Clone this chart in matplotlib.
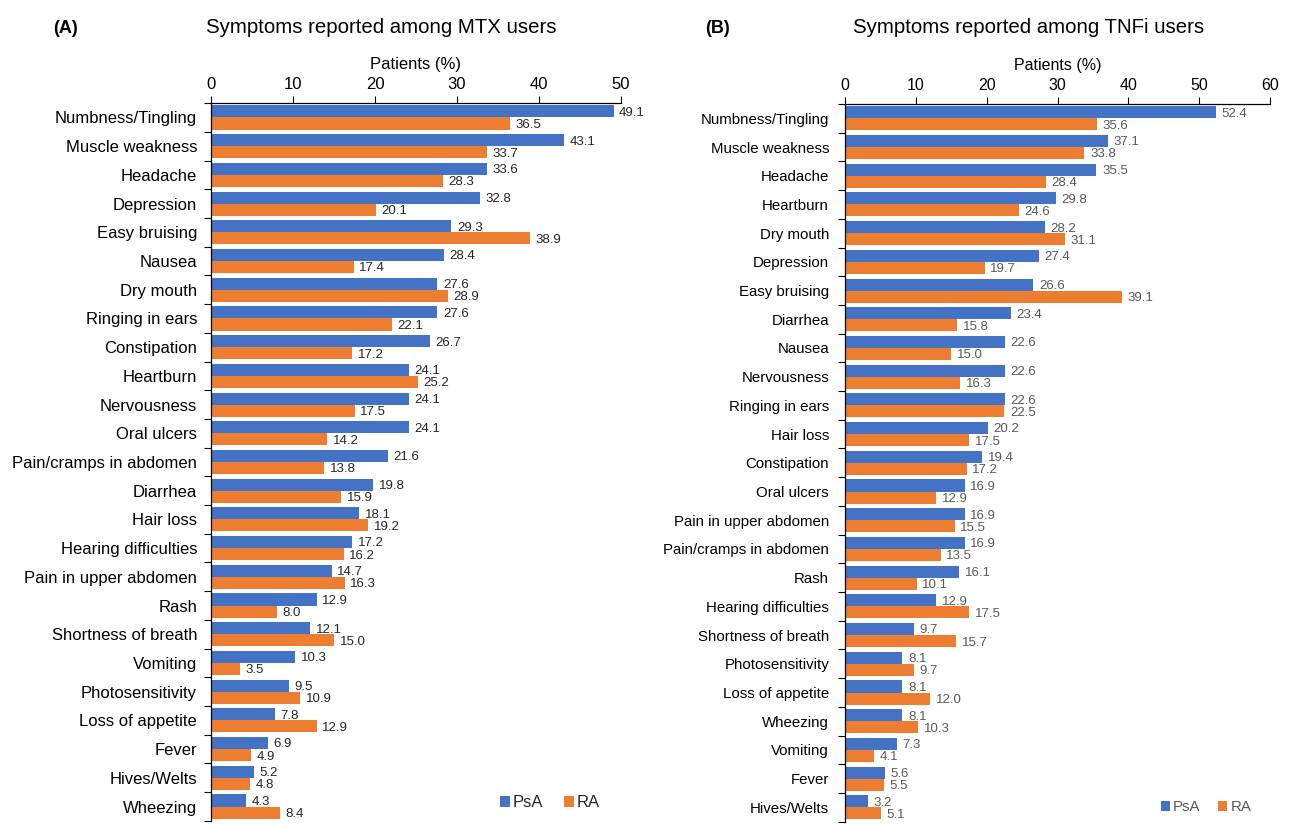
import matplotlib.pyplot as plt
import numpy as np

plt.rcParams['font.family'] = ['Liberation Sans', 'DejaVu Sans']

# ---- MTX users ----
mtx_symptoms = ["Numbness/Tingling", "Muscle weakness", "Headache", "Depression",
                "Easy bruising", "Nausea", "Dry mouth", "Ringing in ears",
                "Constipation", "Heartburn", "Nervousness", "Oral ulcers",
                "Pain/cramps in abdomen", "Diarrhea", "Hair loss",
                "Hearing difficulties", "Pain in upper abdomen", "Rash",
                "Shortness of breath", "Vomiting", "Photosensitivity",
                "Loss of appetite", "Fever", "Hives/Welts", "Wheezing"]
mtx_psa = [49.1, 43.1, 33.6, 32.8, 29.3, 28.4, 27.6, 27.6, 26.7, 24.1, 24.1, 24.1,
           21.6, 19.8, 18.1, 17.2, 14.7, 12.9, 12.1, 10.3, 9.5, 7.8, 6.9, 5.2, 4.3]
mtx_ra = [36.5, 33.7, 28.3, 20.1, 38.9, 17.4, 28.9, 22.1, 17.2, 25.2, 17.5, 14.2,
          13.8, 15.9, 19.2, 16.2, 16.3, 8.0, 15.0, 3.5, 10.9, 12.9, 4.9, 4.8, 8.4]

# ---- TNFi users ----
tnfi_symptoms = ["Numbness/Tingling", "Muscle weakness", "Headache", "Heartburn",
                 "Dry mouth", "Depression", "Easy bruising", "Diarrhea", "Nausea",
                 "Nervousness", "Ringing in ears", "Hair loss", "Constipation",
                 "Oral ulcers", "Pain in upper abdomen", "Pain/cramps in abdomen",
                 "Rash", "Hearing difficulties", "Shortness of breath",
                 "Photosensitivity", "Loss of appetite", "Wheezing", "Vomiting",
                 "Fever", "Hives/Welts"]
tnfi_psa = [52.4, 37.1, 35.5, 29.8, 28.2, 27.4, 26.6, 23.4, 22.6, 22.6, 22.6, 20.2,
            19.4, 16.9, 16.9, 16.9, 16.1, 12.9, 9.7, 8.1, 8.1, 8.1, 7.3, 5.6, 3.2]
tnfi_ra = [35.6, 33.8, 28.4, 24.6, 31.1, 19.7, 39.1, 15.8, 15.0, 16.3, 22.5, 17.5,
           17.2, 12.9, 15.5, 13.5, 10.1, 17.5, 15.7, 9.7, 12.0, 10.3, 4.1, 5.5, 5.1]

BLUE = "#4472C4"
ORANGE = "#ED7D31"

fig = plt.figure(figsize=(12.9, 8.25), dpi=100)


def panel(rect, symptoms, psa, ra, xmax, letter, title, letter_x, title_x,
          fs_cat, fs_tick, cat_pad, txt_col, leg_anchor):
    ax = fig.add_axes(rect)
    n = len(symptoms)
    y = np.arange(n)
    h = 0.42
    ax.barh(y - h / 2, psa, height=h, color=BLUE, label="PsA")
    ax.barh(y + h / 2, ra, height=h, color=ORANGE, label="RA")
    for yi, v in zip(y, psa):
        ax.annotate(f"{v:.1f}", (v, yi - h / 2), xytext=(4, -1),
                    textcoords="offset points", va="center", ha="left",
                    fontsize=9.5, color=txt_col)
    for yi, v in zip(y, ra):
        ax.annotate(f"{v:.1f}", (v, yi + h / 2), xytext=(4, -1),
                    textcoords="offset points", va="center", ha="left",
                    fontsize=9.5, color=txt_col)

    ax.set_ylim(n - 0.5, -0.5)
    ax.set_xlim(0, xmax)
    ax.set_xticks(np.arange(0, xmax + 1, 10))
    ax.xaxis.tick_top()
    ax.xaxis.set_label_position("top")
    ax.tick_params(axis="x", labelsize=fs_tick, length=5, pad=3, colors="black")
    ax.set_xlabel("Patients (%)", fontsize=fs_tick, labelpad=6)

    # category ticks at group boundaries, labels at group centres
    ax.set_yticks(np.arange(-0.5, n, 1.0))
    ax.set_yticklabels([])
    ax.set_yticks(y, minor=True)
    ax.set_yticklabels(symptoms, minor=True, fontsize=fs_cat)
    ax.tick_params(axis="y", which="major", length=5, color="black")
    ax.tick_params(axis="y", which="minor", length=0, pad=cat_pad)

    for s in ["right", "bottom"]:
        ax.spines[s].set_visible(False)
    for s in ["top", "left"]:
        ax.spines[s].set_color("black")
        ax.spines[s].set_linewidth(0.9)

    leg = ax.legend(loc="center right", bbox_to_anchor=leg_anchor, ncol=2,
                    frameon=False, fontsize=fs_cat, handlelength=0.6,
                    handleheight=0.6, handletextpad=0.2, columnspacing=1.2,
                    borderaxespad=0)
    for t in leg.get_texts():
        t.set_color(txt_col)

    fig.text(letter_x, 0.965, letter, fontsize=13, fontweight="bold",
             ha="left", va="center")
    fig.text(title_x, 0.967, title, fontsize=14.7, ha="center", va="center")
    return ax


panel([211 / 1290, 0.005, 410 / 1290, 0.870], mtx_symptoms, mtx_psa, mtx_ra, 50,
      "(A)", "Symptoms reported among MTX users", 53 / 1290, 381 / 1290,
      12, 12, 10, "#262626", (0.965, 0.025))
panel([845 / 1290, 0.004, 425 / 1290, 0.870], tnfi_symptoms, tnfi_psa, tnfi_ra, 60,
      "(B)", "Symptoms reported among TNFi users", 705 / 1290, 1029 / 1290,
      10.8, 11.5, 11.5, "#595959", (0.97, 0.02))

fig.savefig("out.png", dpi=100)
